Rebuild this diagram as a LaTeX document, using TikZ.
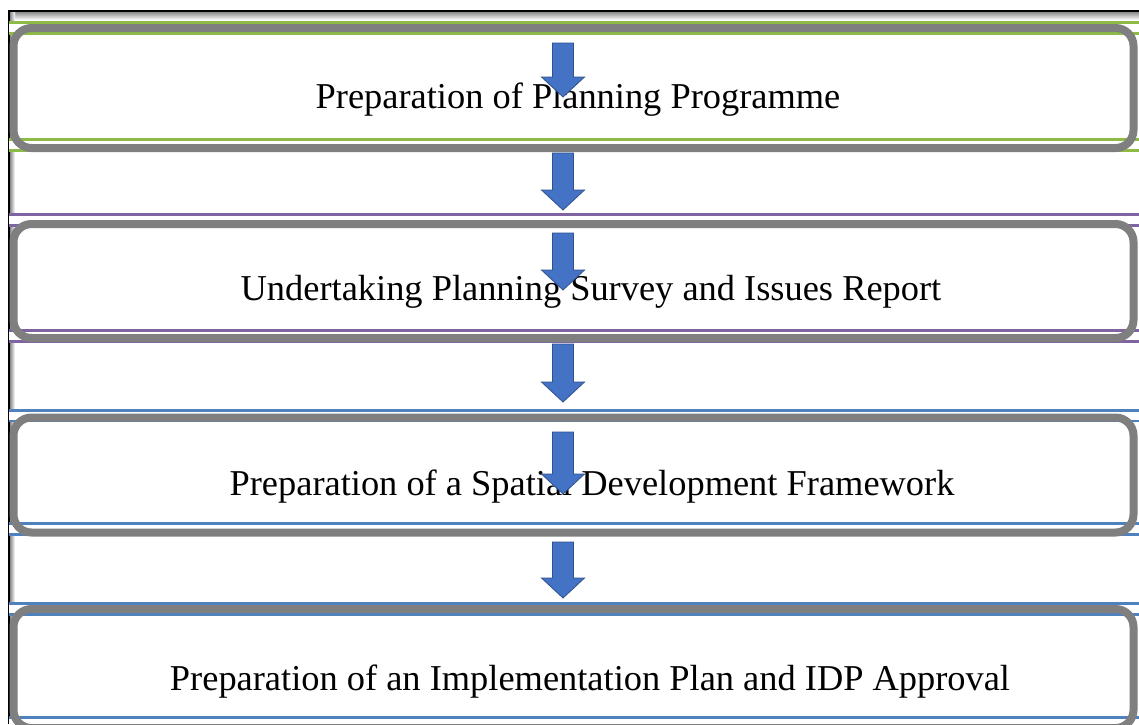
\documentclass[tikz,border=0pt]{standalone}
\usepackage{fontspec}
\setmainfont{Liberation Serif}
\definecolor{framegray}{HTML}{7F7F7F}
\definecolor{bandgreen}{HTML}{8DBB45}
\definecolor{bandpurple}{HTML}{8064A2}
\definecolor{bandblue}{HTML}{4F81BD}
\definecolor{arrowfill}{HTML}{4472C4}
\definecolor{arrowline}{HTML}{2F528F}
\tikzset{
  band/.style={draw=#1, line width=2.6pt, double=white, double distance=8pt},
  stepframe/.style={draw=framegray, line width=8pt, rounded corners=18pt},
  steptext/.style={anchor=base, inner sep=0pt, font=\fontsize{36.4}{44}\selectfont},
  blockarrow/.style={fill=arrowfill, draw=arrowline, line width=0.8pt, line join=miter},
}
% block arrow: #1 name, #2 top of shaft, #3 tip
\newcommand{\flowarrow}[3]{%
  \coordinate (#1) at (563,#3);
  \draw[blockarrow] (552.5,#2) -- (573.5,#2) -- (573.5,#3-20) -- (584.5,#3-20)
    -- (#1) -- (541.5,#3-20) -- (552.5,#3-20) -- cycle;}
% step box: colour band (top, bottom) and grey rounded frame (top, bottom)
\newcommand{\stepbox}[5]{%
  \draw[band=#1] (9,#2) -- (1139,#2);
  \draw[band=#1] (9,#3) -- (1139,#3);
  \draw[stepframe] (13.5,#4) rectangle (1133.5,#5);}
\begin{document}
\begin{tikzpicture}[x=1pt,y=-1pt]
  \useasboundingbox (0,0) rectangle (1139,724);
  \fill[white] (0,0) rectangle (1139,724);
  % outer frame with soft inner shadow
  \shade[top color=black!45, bottom color=white] (9,12) rectangle (1139,20);
  \shade[left color=black!45, right color=white] (10,12) rectangle (15,724);
  \draw[black, line width=2pt] (9,724) -- (9,11) -- (1139,11);
  % steps
  \stepbox{bandgreen}{28}{145}{28}{148}
  \stepbox{bandpurple}{220}{336}{224}{338}
  \stepbox{bandblue}{415.5}{529}{417.5}{532.5}
  \stepbox{bandblue}{609}{723}{609}{728}
  \node[steptext] (s1) at (578,108) {Preparation of Planning Programme};
  \node[steptext] (s2) at (591,300) {Undertaking Planning Survey and Issues Report};
  \node[steptext] (s3) at (592,495) {Preparation of a Spatial Development Framework};
  \node[steptext] (s4) at (590,690) {Preparation of an Implementation Plan and IDP Approval};
  % arrows
  \flowarrow{a1}{43}{97}
  \flowarrow{a2}{153}{210}
  \flowarrow{a3}{233}{290}
  \flowarrow{a4}{344}{402}
  \flowarrow{a5}{432}{494}
  \flowarrow{a6}{542}{598}
\end{tikzpicture}
\end{document}
